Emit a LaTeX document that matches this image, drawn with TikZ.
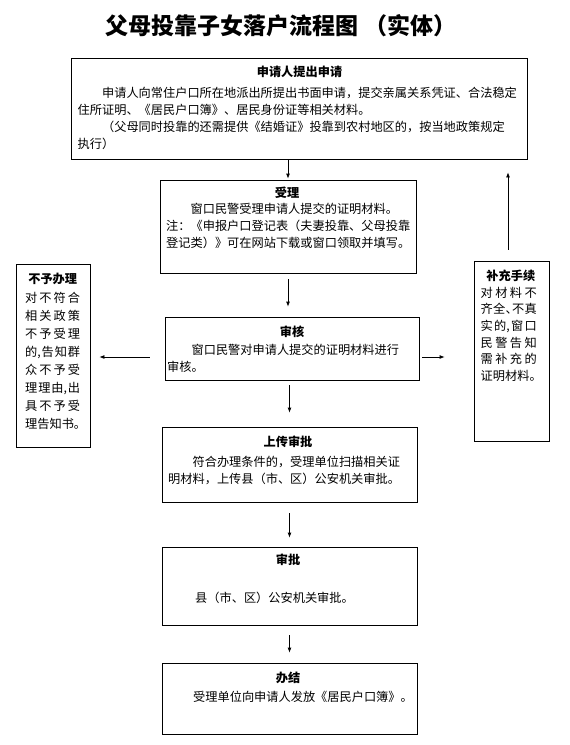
\documentclass[tikz,border=0pt]{standalone}
\usepackage{fontspec}
\newfontfamily\cjk{Noto Sans CJK SC}
\usetikzlibrary{arrows.meta}
\newcommand\bodyfont{\cjk\fontsize{12.2bp}{17bp}\selectfont}
\tikzset{
  boxst/.style={draw, line width=0.8bp, inner sep=0pt},
  head/.style={font=\cjk\bfseries\fontsize{12.2bp}{17bp}\selectfont, inner sep=0pt, anchor=base},
  body/.style={font=\bodyfont, inner sep=0pt, align=left, anchor=north west},
  single/.style={font=\bodyfont, inner sep=0pt, anchor=base west},
  arr/.style={draw, line width=0.8bp, -{Latex[length=5bp,width=4bp]}},
}
\begin{document}
\begin{tikzpicture}[x=1bp,y=-1bp]
\useasboundingbox (0,0) rectangle (570,745);

% title
\node[font=\cjk\bfseries\fontsize{23bp}{26bp}\selectfont, anchor=base, inner sep=0pt] (title) at (281,34.8) {父母投靠子女落户流程图 （实体）};

% boxes
\node[boxst, minimum width=456bp, minimum height=101bp] (b1) at (299,108.5) {};
\node[boxst, minimum width=256bp, minimum height=93bp] (b2) at (288,226.5) {};
\node[boxst, minimum width=254bp, minimum height=63bp] (b3) at (292,348.5) {};
\node[boxst, minimum width=255bp, minimum height=75bp] (b4) at (289.5,464.5) {};
\node[boxst, minimum width=255bp, minimum height=78bp] (b5) at (289.5,586) {};
\node[boxst, minimum width=255bp, minimum height=71bp] (b6) at (289.5,698.5) {};
\node[boxst, minimum width=74bp, minimum height=183bp] (lb) at (53,355.5) {};
\node[boxst, minimum width=75bp, minimum height=180bp] (rb) at (511.5,351) {};

% box 1
\node[head] (b1h) at (299.5,76.6) {申请人提出申请};
\node[body] (b1t) at (77.5,84.6) {\rule{0pt}{13bp}　　申请人向常住户口所在地派出所提出书面申请，提交亲属关系凭证、合法稳定\\
住所证明、《居民户口簿》、居民身份证等相关材料。\\
　　（父母同时投靠的还需提供《结婚证》投靠到农村地区的，按当地政策规定\\
执行）};

% box 2
\node[head] (b2h) at (287,197.9) {受理};
\node[body] (b2t) at (166,199.9) {\rule{0pt}{13bp}　　窗口民警受理申请人提交的证明材料。\\
注：《申报户口登记表（夫妻投靠、父母投靠\\
登记类）》可在网站下载或窗口领取并填写。};

% box 3
\node[head] (b3h) at (292,336.6) {审核};
\node[body] (b3t) at (167,341.1) {\rule{0pt}{13bp}　　窗口民警对申请人提交的证明材料进行\\
审核。};

% box 4
\node[head] (b4h) at (288,446.6) {上传审批};
\node[body] (b4t) at (168,453.6) {\rule{0pt}{13bp}　　符合办理条件的，受理单位扫描相关证\\
明材料，上传县（市、区）公安机关审批。};

% box 5
\node[head] (b5h) at (288,564.6) {审批};
\node[single] (b5t) at (195,602.6) {县（市、区）公安机关审批。};

% box 6
\node[head] (b6h) at (288,682.6) {办结};
\node[single] (b6t) at (193,701.6) {受理单位向申请人发放《居民户口簿》。};

% left box
\node[head] (lbh) at (52.7,283.9) {不予办理};
\node[body, font=\cjk\fontsize{12.2bp}{18bp}\selectfont] (lbt) at (25,289.1) {\rule{0pt}{13bp}\makebox[55bp][l]{对\hfill 不\hfill 符\hfill 合}\\
\makebox[55bp][l]{相\hfill 关\hfill 政\hfill 策}\\
\makebox[55bp][l]{不\hfill 予\hfill 受\hfill 理}\\
\makebox[55bp][l]{的,\hfill 告\hfill 知\hfill 群}\\
\makebox[55bp][l]{众\hfill 不\hfill 予\hfill 受}\\
\makebox[55bp][l]{理\hfill 理\hfill 由,\hfill 出}\\
\makebox[55bp][l]{具\hfill 不\hfill 予\hfill 受}\\
理告知书。};

% right box
\node[head] (rbh) at (510.8,280.1) {补充手续};
\node[body, font=\cjk\fontsize{12.2bp}{16.7bp}\selectfont] (rbt) at (480.5,283.9) {\rule{0pt}{13bp}\makebox[56bp][l]{对\hfill 材\hfill 料\hfill 不}\\
\makebox[56bp][l]{齐\hfill 全\hfill\makebox[6bp][l]{、}\hfill 不\hfill 真}\\
\makebox[56bp][l]{实\hfill 的,\hfill 窗\hfill 口}\\
\makebox[56bp][l]{民\hfill 警\hfill 告\hfill 知}\\
\makebox[56bp][l]{需\hfill 补\hfill 充\hfill 的}\\
证明材料。};

% helper coordinates
\coordinate (m3) at (292,357);
\coordinate (u) at (508,0);

% connectors
\draw[arr, shorten <=1bp, shorten >=1bp] (b2.north |- b1.south) -- (b2.north);
\draw[arr, shorten <=6bp, shorten >=10bp] (b2.south) -- (b2.south |- b3.north);
\draw[arr, shorten <=5bp, shorten >=14bp] (b4.north |- b3.south) -- (b4.north);
\draw[arr, shorten <=11bp, shorten >=9bp] (b4.south) -- (b5.north);
\draw[arr, shorten <=10bp, shorten >=10bp] (b5.south) -- (b6.north);
\draw[arr, shorten <=15bp, shorten >=9bp] (b3.west |- m3) -- (lb.east |- m3);
\draw[arr, shorten <=3bp, shorten >=29bp] (b3.east |- m3) -- (rb.west |- m3);
\draw[arr, shorten <=11bp, shorten >=13bp] (rb.north -| u) -- (b1.south -| u);
\end{tikzpicture}
\end{document}
